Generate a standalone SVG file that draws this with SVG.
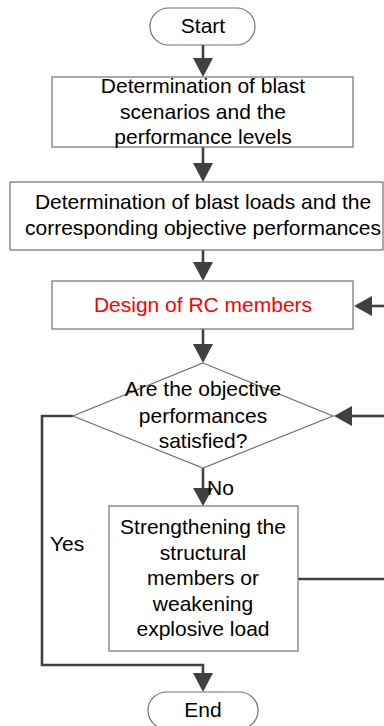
<svg xmlns="http://www.w3.org/2000/svg" width="384" height="726" viewBox="0 0 384 726">
<defs>
<marker id="ah" markerWidth="8" markerHeight="8" refX="7.6" refY="4" orient="auto" markerUnits="userSpaceOnUse" viewBox="0 0 8 8">
<path d="M0,0 L8,4 L0,8 L2,4 Z" fill="#404040"/>
</marker>
<style>
.box{fill:#fff;stroke:#707070;stroke-width:1.2}
.t{font-family:"Liberation Sans",Arial,sans-serif;font-size:21px;fill:#000;text-anchor:middle}
.lbl{font-family:"Liberation Sans",Arial,sans-serif;font-size:21px;fill:#000}
.c{fill:none;stroke:#404040;stroke-width:2.6}
</style>
</defs>
<rect width="384" height="726" fill="#fff"/>
<g id="connectors">
<path class="c" d="M203,45 V58"/>
<path d="M193,58 L213,58 L203,77 Z" fill="#404040"/>
<path class="c" d="M203,147 V163"/>
<path d="M193,163 L213,163 L203,182 Z" fill="#404040"/>
<path class="c" d="M203,250 V262"/>
<path d="M193,262 L213,262 L203,281 Z" fill="#404040"/>
<path class="c" d="M203,329 V344"/>
<path d="M193,344 L213,344 L203,363 Z" fill="#404040"/>
<path class="c" d="M203,468 V488"/>
<path d="M193,488 L213,488 L203,506 Z" fill="#404040"/>
<path class="c" d="M73,416 H42 V665 H203 V673"/>
<path d="M193,673 L213,673 L203,692 Z" fill="#404040"/>
<path class="c" d="M298,579 H384"/>
<path class="c" d="M384,416 H352"/>
<path d="M352,406 L352,426 L334,416 Z" fill="#404040"/>
<path class="c" d="M384,306 H372"/>
<path d="M372,296 L372,316 L354,306 Z" fill="#404040"/>
<text class="lbl" x="207" y="495">No</text>
<text class="lbl" x="50" y="551">Yes</text>
</g>
<g id="start">
<rect class="box" x="150" y="8" width="105" height="37" rx="18.5"/>
<text class="t" x="203" y="33">Start</text>
</g>
<g id="scenarios">
<rect class="box" x="52" y="77" width="301" height="70"/>
<text class="t" x="203" y="93">Determination of blast</text>
<text class="t" x="203" y="119">scenarios and the</text>
<text class="t" x="203" y="144">performance levels</text>
</g>
<g id="loads">
<rect class="box" x="10" y="182" width="373" height="68"/>
<text class="t" x="203" y="209">Determination of blast loads and the</text>
<text class="t" x="203" y="235">corresponding objective performances</text>
</g>
<g id="design">
<rect class="box" x="52" y="281" width="301" height="48"/>
<text class="t" x="203" y="312" fill="#ff0000" style="fill:#ff0000">Design of RC members</text>
</g>
<g id="decision">
<polygon class="box" points="203,363 333,416 203,468 73,416"/>
<text class="t" x="203" y="396">Are the objective</text>
<text class="t" x="203" y="423">performances</text>
<text class="t" x="203" y="448">satisfied?</text>
</g>
<g id="strengthen">
<rect class="box" x="109" y="506" width="189" height="145"/>
<text class="t" x="203" y="534">Strengthening the</text>
<text class="t" x="203" y="560">structural</text>
<text class="t" x="203" y="585">members or</text>
<text class="t" x="203" y="611">weakening</text>
<text class="t" x="203" y="636">explosive load</text>
</g>
<g id="end">
<rect class="box" x="148" y="692" width="110" height="37" rx="18.5"/>
<text class="t" x="203" y="717">End</text>
</g>
</svg>
